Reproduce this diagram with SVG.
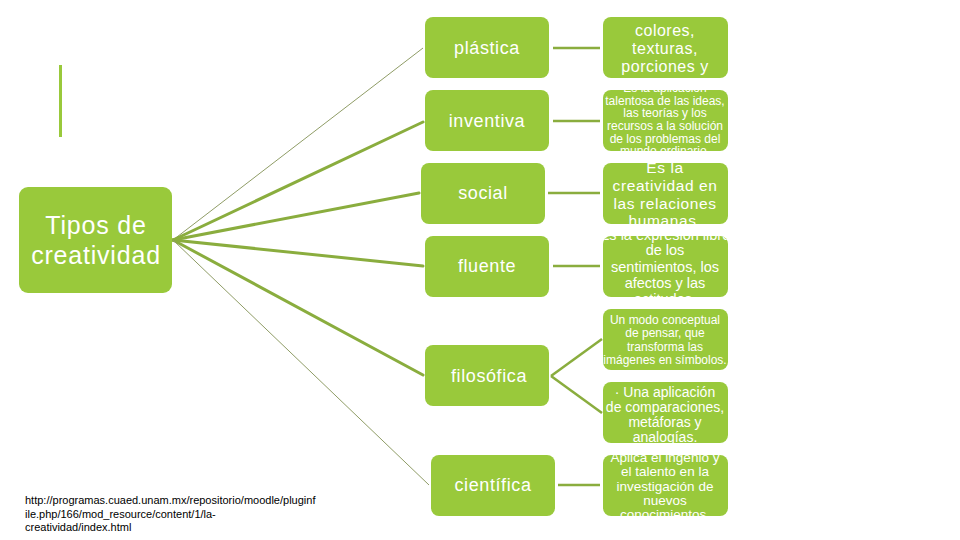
<svg xmlns="http://www.w3.org/2000/svg" width="960" height="540" viewBox="0 0 960 540">
<style>
.box{fill:#99c93b;}
.t{font-family:"Liberation Sans",Arial,sans-serif;fill:#ffffff;text-anchor:middle;}
.mid{font-size:18px;letter-spacing:0.6px;}
.thick{stroke:#8aad3e;stroke-width:3;fill:none;stroke-linecap:round;}
.thin{stroke:#8f9c66;stroke-width:1;fill:none;}
.h{stroke:#8aad3e;stroke-width:2.5;fill:none;}
</style>
<defs>
<clipPath id="c1"><rect x="603" y="17" width="125" height="61" rx="8"/></clipPath>
<clipPath id="c2"><rect x="603" y="90" width="125" height="61" rx="8"/></clipPath>
<clipPath id="c3"><rect x="603" y="163" width="125" height="61" rx="8"/></clipPath>
<clipPath id="c4"><rect x="603" y="236" width="125" height="61" rx="8"/></clipPath>
<clipPath id="c5"><rect x="603" y="309" width="125" height="61" rx="8"/></clipPath>
<clipPath id="c6"><rect x="603" y="382" width="125" height="61" rx="8"/></clipPath>
<clipPath id="c7"><rect x="603" y="455" width="125" height="61" rx="8"/></clipPath>
</defs>
<rect width="960" height="540" fill="#ffffff"/>
<rect x="59" y="65" width="3" height="72" fill="#99c93b"/>

<g id="connectors">
<line class="thin" x1="173" y1="240" x2="423" y2="48"/>
<line class="thick" x1="173" y1="240" x2="423" y2="122"/>
<line class="thick" x1="173" y1="240" x2="419" y2="193"/>
<line class="thick" x1="173" y1="240" x2="423" y2="266"/>
<line class="thick" x1="173" y1="240" x2="423" y2="375"/>
<line class="thin" x1="173" y1="240" x2="429" y2="485"/>
<line class="h" x1="553" y1="48" x2="600" y2="48"/>
<line class="h" x1="553" y1="121" x2="600" y2="121"/>
<line class="h" x1="548" y1="193" x2="600" y2="193"/>
<line class="h" x1="553" y1="266" x2="600" y2="266"/>
<line class="h" x1="551" y1="376" x2="602" y2="339"/>
<line class="h" x1="551" y1="376" x2="602" y2="413"/>
<line class="h" x1="558" y1="485" x2="600" y2="485"/>
</g>

<g id="root">
<rect class="box" x="19" y="187" width="153" height="106" rx="9"/>
<text class="t" x="96" y="234" font-size="25" letter-spacing="0.8">Tipos de</text>
<text class="t" x="96" y="264" font-size="25" letter-spacing="0.8">creatividad</text>
</g>

<g id="plastica"><rect class="box" x="425" y="17" width="124" height="61" rx="8"/><text class="t mid" x="487" y="54">plástica</text></g>
<g id="inventiva"><rect class="box" x="425" y="90" width="124" height="61" rx="8"/><text class="t mid" x="487" y="127">inventiva</text></g>
<g id="social"><rect class="box" x="421" y="163" width="124" height="61" rx="8"/><text class="t mid" x="483" y="199">social</text></g>
<g id="fluente"><rect class="box" x="425" y="236" width="124" height="61" rx="8"/><text class="t mid" x="487" y="272">fluente</text></g>
<g id="filosofica"><rect class="box" x="425" y="345" width="124" height="61" rx="8"/><text class="t mid" x="489" y="382">filosófica</text></g>
<g id="cientifica"><rect class="box" x="431" y="455" width="124" height="61" rx="8"/><text class="t mid" x="493" y="491">científica</text></g>

<g id="d-plastica"><rect class="box" x="603" y="17" width="125" height="61" rx="8"/>
<g clip-path="url(#c1)" class="t" font-size="16" letter-spacing="0.5"><text x="665" y="36">colores,</text><text x="665" y="54">texturas,</text><text x="665" y="72">porciones y</text></g></g>

<g id="d-inventiva"><rect class="box" x="603" y="90" width="125" height="61" rx="8"/>
<g clip-path="url(#c2)" class="t" font-size="12"><text x="665" y="92">Es la aplicación</text><text x="665" y="104.5">talentosa de las ideas,</text><text x="665" y="117">las teorías y los</text><text x="665" y="130">recursos a la solución</text><text x="665" y="142.5">de los problemas del</text><text x="665" y="155">mundo ordinario.</text></g></g>

<g id="d-social"><rect class="box" x="603" y="163" width="125" height="61" rx="8"/>
<g clip-path="url(#c3)" class="t" font-size="15.5" letter-spacing="0.6"><text x="665" y="173">Es la</text><text x="665" y="191">creatividad en</text><text x="665" y="209">las relaciones</text><text x="665" y="226">humanas.</text></g></g>

<g id="d-fluente"><rect class="box" x="603" y="236" width="125" height="61" rx="8"/>
<g clip-path="url(#c4)" class="t" font-size="14.5"><text x="665" y="240">Es la expresión libre</text><text x="665" y="255">de los</text><text x="665" y="272">sentimientos, los</text><text x="665" y="288">afectos y las</text><text x="665" y="304">actitudes.</text></g></g>

<g id="d-filosofica1"><rect class="box" x="603" y="309" width="125" height="61" rx="8"/>
<g clip-path="url(#c5)" class="t" font-size="12"><text x="665" y="324">Un modo conceptual</text><text x="665" y="337">de pensar, que</text><text x="665" y="351">transforma las</text><text x="665" y="364">imágenes en símbolos.</text></g></g>

<g id="d-filosofica2"><rect class="box" x="603" y="382" width="125" height="61" rx="8"/>
<g clip-path="url(#c6)" class="t" font-size="14"><text x="665" y="397">· Una aplicación</text><text x="665" y="412">de comparaciones,</text><text x="665" y="427">metáforas y</text><text x="665" y="442">analogías.</text></g></g>

<g id="d-cientifica"><rect class="box" x="603" y="455" width="125" height="61" rx="8"/>
<g clip-path="url(#c7)" class="t" font-size="13.5"><text x="665" y="462">Aplica el ingenio y</text><text x="665" y="476">el talento en la</text><text x="665" y="491">investigación de</text><text x="665" y="505">nuevos</text><text x="665" y="519">conocimientos.</text></g></g>

<g id="source" font-family="'Liberation Sans',Arial,sans-serif" font-size="11" fill="#000000">
<text x="25" y="504">http://programas.cuaed.unam.mx/repositorio/moodle/pluginf</text>
<text x="25" y="518">ile.php/166/mod_resource/content/1/la-</text>
<text x="25" y="531">creatividad/index.html</text>
</g>
</svg>
